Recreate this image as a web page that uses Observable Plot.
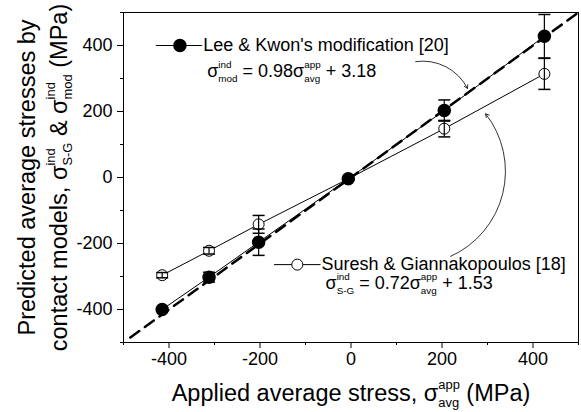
<!DOCTYPE html>
<html>
<head>
<meta charset="utf-8">
<script src="https://cdn.jsdelivr.net/npm/d3@7"></script>
<script src="https://cdn.jsdelivr.net/npm/@observablehq/plot@0.6"></script>
<style>
  html, body { margin: 0; padding: 0; background: white; }
</style>
</head>
<body>
<script>
// ---------- data ----------
const appliedStress = [-415, -312, -203, -6, 205, 425];
const leeKwonY      = [-400, -302, -196, -4, 203, 428];
const leeKwonErr    = [5, 15, 40, 4, 32, 66];
const sureshY       = [-296, -222, -142, -4, 148, 314];
const sureshErr     = [8, 10, 27, 4, 25, 47];

const majorTicks = [-400, -200, 0, 200, 400];
const minorTicks = [-500, -300, -100, 100, 300, 500];
const diagonalX  = [-485, 500];   // y = x reference

const legendNames   = ["Lee & Kwon's modification [20]", "Suresh & Giannakopoulos [18]"];
const legendY       = [400, -264];
const legendLineX1  = [-429, -169];
const legendLineX2  = [-327, -67];
const legendDotX    = [-376, -118];

const eqKeys = ["EQ_MOD", "EQ_SG"];
const eqX    = [-316, -56];
const eqY    = [321, -321];

const arrowX1   = [142, 219];
const arrowY1   = [351, -239];
const arrowX2   = [256, 296];
const arrowY2   = [270, 193];
const arrowBend = [36, -52];

const yTitleLine1 = "Predicted average stresses by";

// rich text (sub/superscripts) definitions
const richText = {
  EQ_MOD: {fs: 18, segs: ["σ", {sup: "ind", sub: "mod"}, " = 0.98σ", {sup: "app", sub: "avg"}, " + 3.18"]},
  EQ_SG:  {fs: 18, segs: ["σ", {sup: "ind", sub: "S-G"}, " = 0.72σ", {sup: "app", sub: "avg"}, " + 1.53"]},
  XTITLE: {fs: 23.5, segs: ["Applied average stress, σ", {sup: "app", sub: "avg"}, " (MPa)"]},
  YTITLE2: {fs: 23.5, segs: ["contact models, σ", {sup: "ind", sub: "S-G"}, " & σ", {sup: "ind", sub: "mod"}, " (MPa)"]}
};

// ---------- tables ----------
const leeData = appliedStress.map((x, i) => ({x, y: leeKwonY[i], e: leeKwonErr[i]}));
const sgData  = appliedStress.map((x, i) => ({x, y: sureshY[i], e: sureshErr[i]}));
const diagData = diagonalX.map(v => ({x: v, y: v}));
const legend = legendNames.map((name, i) => ({
  name, y: legendY[i], x1: legendLineX1[i], x2: legendLineX2[i], xd: legendDotX[i]
}));
const eqs = eqKeys.map((k, i) => ({k, x: eqX[i], y: eqY[i]}));
const arrows = arrowX1.map((x1, i) => ({x1, y1: arrowY1[i], x2: arrowX2[i], y2: arrowY2[i]}));

const capSymbol = {
  draw(ctx, size) {
    const r = Math.sqrt(size / Math.PI);
    ctx.moveTo(-r, 0);
    ctx.lineTo(r, 0);
  }
};

function errorBars(data) {
  return [
    Plot.ruleX(data, {x: "x", y1: d => d.y - d.e, y2: d => d.y + d.e, stroke: "black", strokeWidth: 1.2}),
    Plot.dot(data, {x: "x", y: d => d.y + d.e, symbol: capSymbol, r: 6, stroke: "black", strokeWidth: 1.5, fill: "none"}),
    Plot.dot(data, {x: "x", y: d => d.y - d.e, symbol: capSymbol, r: 6, stroke: "black", strokeWidth: 1.5, fill: "none"})
  ];
}

const plot = Plot.plot({
  width: 581,
  height: 412,
  marginLeft: 123,
  marginRight: 3,
  marginTop: 12,
  marginBottom: 70,
  style: {fontFamily: "'Liberation Sans', Arial, sans-serif", background: "white", color: "black"},
  x: {domain: [-500, 500]},
  y: {domain: [-500, 500]},
  marks: [
    Plot.axisX({ticks: minorTicks, tickSize: 3, tickFormat: () => "", label: null}),
    Plot.axisY({ticks: minorTicks, tickSize: 3, tickFormat: () => "", label: null}),
    Plot.axisX({ticks: majorTicks, tickSize: 6, tickPadding: 4, fontSize: 18, tickFormat: d => String(d), label: null}),
    Plot.axisY({ticks: majorTicks, tickSize: 6, tickPadding: 5, fontSize: 18, tickFormat: d => String(d), label: null}),
    // reference y = x
    Plot.line(diagData, {x: "x", y: "y", stroke: "black", strokeWidth: 2.5, strokeDasharray: "11,7"}),
    // series lines
    Plot.line(leeData, {x: "x", y: "y", stroke: "black", strokeWidth: 1}),
    Plot.line(sgData, {x: "x", y: "y", stroke: "black", strokeWidth: 1}),
    // open points
    Plot.dot(sgData, {x: "x", y: "y", r: 5.5, fill: "white", stroke: "black", strokeWidth: 1}),
    ...errorBars(sgData),
    ...errorBars(leeData),
    // filled points
    Plot.dot(leeData, {x: "x", y: "y", r: 6, fill: "black", stroke: "black"}),
    // legend samples
    Plot.link(legend, {x1: "x1", x2: "x2", y1: "y", y2: "y", stroke: "black", strokeWidth: 1}),
    Plot.dot([legend[0]], {x: "xd", y: "y", r: 6, fill: "black", stroke: "black"}),
    Plot.dot([legend[1]], {x: "xd", y: "y", r: 5.5, fill: "white", stroke: "black", strokeWidth: 1}),
    Plot.text(legend, {x: "x2", y: "y", text: "name", textAnchor: "start", dx: 1, fontSize: 18, fill: "black"}),
    Plot.text(eqs, {x: "x", y: "y", text: "k", textAnchor: "start", fontSize: 18, fill: "black"}),
    // curved arrows
    Plot.arrow([arrows[0]], {x1: "x1", y1: "y1", x2: "x2", y2: "y2", bend: arrowBend[0], stroke: "black", strokeWidth: 0.8, headLength: 7}),
    Plot.arrow([arrows[1]], {x1: "x1", y1: "y1", x2: "x2", y2: "y2", bend: arrowBend[1], stroke: "black", strokeWidth: 0.8, headLength: 7}),
    // axis titles
    Plot.text(["XTITLE"], {frameAnchor: "bottom", dy: 51, text: d => d, textAnchor: "middle", lineAnchor: "middle", fontSize: 23.5, fill: "black"}),
    Plot.text([yTitleLine1], {frameAnchor: "left", dx: -96.5, rotate: -90, text: d => d, textAnchor: "middle", lineAnchor: "middle", fontSize: 23.5, fill: "black"}),
    Plot.text(["YTITLE2"], {frameAnchor: "left", dx: -64.5, rotate: -90, text: d => d, textAnchor: "middle", lineAnchor: "middle", fontSize: 23.5, fill: "black"}),
    Plot.frame({stroke: "black", strokeWidth: 1})
  ]
});

document.body.appendChild(plot);

// ---------- rich text post-processing (sub/superscripts) ----------
function richify(textEl, segs, fs) {
  const ns = "http://www.w3.org/2000/svg";
  const baseDy = textEl.getAttribute("dy");
  textEl.removeAttribute("dy");
  let baseOff = 0;
  if (baseDy) baseOff = parseFloat(baseDy) * (String(baseDy).endsWith("em") ? fs : 1);
  textEl.textContent = "";
  let cur = 0;
  let pendingDx = 0;
  const small = fs * 0.55;
  const add = (txt, off, size, dx) => {
    const t = document.createElementNS(ns, "tspan");
    t.textContent = txt;
    if (size) t.setAttribute("font-size", size);
    const dy = baseOff + off - cur;
    if (Math.abs(dy) > 1e-6) t.setAttribute("dy", dy);
    cur = baseOff + off;
    if (dx) t.setAttribute("dx", dx);
    textEl.appendChild(t);
    return t;
  };
  for (const seg of segs) {
    if (typeof seg === "string") {
      add(seg, 0, null, pendingDx);
      pendingDx = 0;
    } else {
      const a = add(seg.sup, -0.5 * fs, small, pendingDx);
      pendingDx = 0;
      const la = a.getComputedTextLength();
      const b = add(seg.sub, 0.24 * fs, small, -la);
      const lb = b.getComputedTextLength();
      pendingDx = Math.max(0, la - lb);
    }
  }
}

plot.querySelectorAll("text").forEach(t => {
  const key = t.textContent;
  if (richText[key]) richify(t, richText[key].segs, richText[key].fs);
});
</script>
</body>
</html>
